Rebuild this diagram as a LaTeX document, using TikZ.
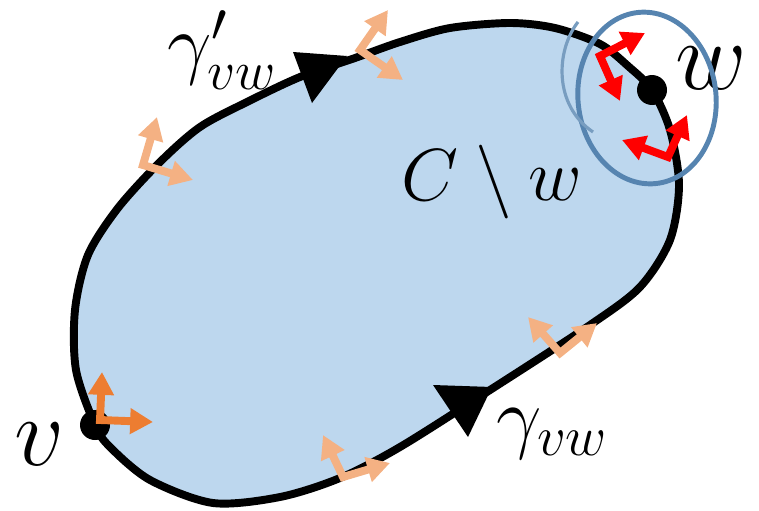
\RequirePackage{fix-cm}
\documentclass[tikz,border=0pt]{standalone}
\usetikzlibrary{arrows.meta}
\definecolor{blobblue}{RGB}{189,215,238}
\definecolor{ringblue}{RGB}{86,132,176}
\definecolor{paleorange}{RGB}{244,177,131}
\definecolor{deeporange}{RGB}{237,125,49}
\tikzset{
  blobline/.style={line width=4.5pt, fill=blobblue},
  frm/.style={line width=4.5pt, line join=miter,
    arrows={Triangle[length=13pt,width=14pt]-Triangle[length=13pt,width=14pt]}},
  bigmath/.style={inner sep=0pt, font=\fontsize{56}{60}\selectfont},
  midmath/.style={inner sep=0pt, font=\fontsize{46}{50}\selectfont}
}
\newcommand{\frameL}[4]{\draw[frm, draw=#1] (#3) -- (#2) -- (#4);}

\begin{document}
\begin{tikzpicture}[x=0.02cm, y=-0.02cm]
  \useasboundingbox (0,0) rectangle (759,510);
  \coordinate (v) at (95,425);
  \coordinate (w) at (652,90);
  % the closed curve C
  \draw[blobline] plot[smooth cycle] coordinates {
    (95,425) (76,370) (75,310) (88,255) (118,208) (160,162) (200,127)
    (247,102) (300,77) (355,58) (400,42) (450,28) (510,23) (555,28)
    (600,44) (628,66) (652,90) (670,130) (679,185) (670,240) (640,287)
    (590,325) (490,390) (400,447) (340,478) (280,497) (213,503)
    (150,480) (110,447)};
  % direction marks
  \fill (293,52) -- (347,56) -- (312,103) -- cycle;
  \fill (433,385) -- (492,387) -- (468,437) -- cycle;
  % labels
  \node[bigmath] (vlab) at (40,444) {$v$};
  \node[bigmath] (wlab) at (711,68) {$w$};
  \node[midmath, anchor=base, font=\fontsize{45}{48}\selectfont] (gtop) at (222,70) {$\gamma'_{vw}$};
  \node[midmath, anchor=base] (gbot) at (552,443) {$\gamma_{vw}$};
  \node[inner sep=0pt, anchor=base, font=\fontsize{42}{46}\selectfont] (cw) at (492,200) {$C\setminus w$};
  % points
  \fill (v) circle (15);
  \fill (w) circle (15);
  % neighbourhood of w
  \draw[ringblue, line width=2.8pt, rotate around={6:(647,98)}] (647,98) ellipse [x radius=69, y radius=86];
  \draw[ringblue!80, line width=1.8pt] (578,22) .. controls (556,50) and (553,105) .. (593,132);
  % frames along the curve
  \frameL{paleorange}{143,165}{157,117}{193,180}
  \frameL{paleorange}{360,50}{388,10}{403,80}
  \frameL{paleorange}{343,477}{323,435}{390,463}
  \frameL{paleorange}{560,353}{528,317}{597,323}
  \frameL{deeporange}{100,420}{102,372}{153,422}
  \frameL{red}{600,56}{645,33}{620,101}
  \frameL{red}{668,157}{687,115}{622,140}
\end{tikzpicture}
\end{document}
